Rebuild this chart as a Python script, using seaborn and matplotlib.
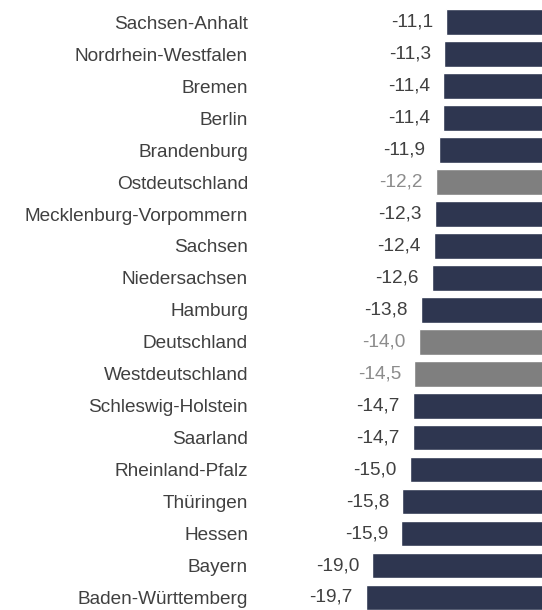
import matplotlib
matplotlib.use("Agg")
import matplotlib.pyplot as plt
import seaborn as sns
import pandas as pd

# data
laender = ["Sachsen-Anhalt", "Nordrhein-Westfalen", "Bremen", "Berlin", "Brandenburg",
           "Ostdeutschland", "Mecklenburg-Vorpommern", "Sachsen", "Niedersachsen", "Hamburg",
           "Deutschland", "Westdeutschland", "Schleswig-Holstein", "Saarland",
           "Rheinland-Pfalz", "Thüringen", "Hessen", "Bayern", "Baden-Württemberg"]
werte = [-11.1, -11.3, -11.4, -11.4, -11.9, -12.2, -12.3, -12.4, -12.6, -13.8,
         -14.0, -14.5, -14.7, -14.7, -15.0, -15.8, -15.9, -19.0, -19.7]
aggregate = ["Ostdeutschland", "Deutschland", "Westdeutschland"]

navy = "#2e3650"
grau = "#7f7f7f"
text_col = "#404040"
fs = 13.7

df = pd.DataFrame({"land": laender, "wert": werte})
df["gruppe"] = ["agg" if l in aggregate else "land" for l in laender]

sns.set_style("white")
plt.rcParams['font.family'] = ['Liberation Sans', 'DejaVu Sans']

fig = plt.figure(figsize=(5.42, 6.10), dpi=100)
ax = fig.add_axes([0.4808, -0.0057, 0.5332, 0.9954])

sns.barplot(data=df, x="wert", y="land", hue="gruppe",
            palette={"land": navy, "agg": grau}, dodge=False, width=0.8,
            legend=False, ax=ax, saturation=1)

ax.set_xlim(-31, 0)
ax.set_ylim(18.5, -0.5)

# value labels left of each bar
for i, (land, w) in enumerate(zip(laender, werte)):
    col = "#8c8c8c" if land in aggregate else text_col
    ax.annotate(f"{w:.1f}".replace(".", ","), xy=(w, i), xytext=(-9.5, 0),
                textcoords="offset points", ha="right", va="center",
                fontsize=fs, color=col)

ax.set_xlabel("")
ax.set_ylabel("")
ax.set_xticks([])
ax.tick_params(axis="y", length=0, pad=9, labelsize=fs, labelcolor=text_col)
sns.despine(ax=ax, left=True, bottom=True)

fig.savefig("out.png", dpi=100)
